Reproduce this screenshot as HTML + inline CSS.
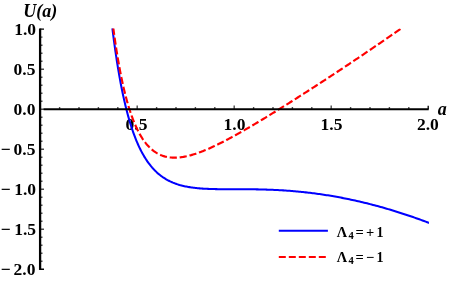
<!DOCTYPE html>
<html><head><meta charset="utf-8"><title>U(a)</title><style>
html,body{margin:0;padding:0;background:#fff;}
svg{display:block}
</style></head><body>
<svg width="449" height="281" viewBox="0 0 449 281" role="img" aria-label="Plot of U(a) against a for Λ4=+1 (solid blue) and Λ4=−1 (dashed red)">
<desc>Axes: U(a) vertical with ticks 1.0, 0.5, 0.0, −0.5, −1.0, −1.5, −2.0; a horizontal with ticks 0.5, 1.0, 1.5, 2.0. Legend: Λ4=+1, Λ4=−1.</desc>
<rect width="449" height="281" fill="#fff"/>
<filter id="b" x="0" y="0" width="449" height="281" filterUnits="userSpaceOnUse"><feGaussianBlur stdDeviation="0.3"/></filter>
<g filter="url(#b)">
<g font-family="'Liberation Serif', serif" font-weight="bold" font-size="17.5" fill="#000">
<text x="125.6" y="130">0.5</text>
<text x="223.6" y="130">1.0</text>
<text x="320.5" y="130">1.5</text>
<text x="416.9" y="130">2.0</text>
<text x="14.2" y="35.27">1.0</text>
<text x="13.5" y="75.46">0.5</text>
<text x="13.5" y="115.48">0.0</text>
<text y="155.49"><tspan x="0.8">−</tspan><tspan x="13.5">0.5</tspan></text>
<text y="195.33"><tspan x="0.8">−</tspan><tspan x="14.2">1.0</tspan></text>
<text y="235.34"><tspan x="0.8">−</tspan><tspan x="14.2">1.5</tspan></text>
<text y="275.36"><tspan x="0.8">−</tspan><tspan x="13.5">2.0</tspan></text>
</g>
<g font-family="'Liberation Serif', serif" font-weight="bold" font-style="italic" font-size="18" fill="#000">
<text x="23.2" y="16.6">U(a)</text>
<text x="437.8" y="115.15">a</text>
</g>
<g font-family="'Liberation Serif', serif" font-weight="bold" fill="#000">
<text y="236.7" font-size="14.5"><tspan x="336.8">Λ</tspan><tspan x="348.4" y="238.7" font-size="10.5">4</tspan><tspan x="355.6" y="236.7" font-size="14.5">=</tspan><tspan x="366.1" y="236.7" font-size="14.5">+</tspan><tspan x="376.4" y="236.7" font-size="14">1</tspan></text>
<text y="262" font-size="14.5"><tspan x="336.8">Λ</tspan><tspan x="348.4" y="264" font-size="10.5">4</tspan><tspan x="355.6" y="262" font-size="14.5">=</tspan><tspan x="366.1" y="262" font-size="14.5">−</tspan><tspan x="376.4" y="262" font-size="14">1</tspan></text>
</g>
<clipPath id="c"><rect x="0" y="28.61" width="428.95" height="260"/></clipPath>
<g clip-path="url(#c)" fill="none">
<path d="M112.00,25.17 L112.06,25.68 L112.17,26.62 L112.32,27.83 L112.49,29.25 L112.69,30.84 L112.91,32.58 L113.14,34.45 L113.40,36.43 L113.67,38.51 L113.95,40.67 L114.26,42.91 L114.57,45.22 L114.90,47.58 L115.24,50.00 L115.59,52.45 L115.96,54.94 L116.34,57.46 L116.72,60.01 L117.12,62.57 L117.53,65.14 L117.95,67.73 L118.39,70.32 L118.83,72.90 L119.28,75.49 L119.74,78.06 L120.20,80.63 L120.68,83.19 L121.17,85.72 L121.67,88.24 L122.17,90.74 L122.68,93.22 L123.20,95.67 L123.73,98.10 L124.27,100.49 L124.82,102.86 L125.37,105.20 L125.93,107.50 L126.50,109.77 L127.08,112.01 L127.66,114.21 L128.25,116.37 L128.85,118.50 L129.45,120.59 L130.07,122.64 L130.69,124.66 L131.31,126.63 L131.95,128.57 L132.59,130.47 L133.23,132.33 L133.89,134.15 L134.55,135.93 L135.21,137.67 L135.88,139.37 L136.56,141.04 L137.25,142.66 L137.94,144.25 L138.64,145.80 L139.34,147.31 L140.05,148.78 L140.77,150.22 L141.49,151.62 L142.22,152.98 L142.95,154.31 L143.69,155.60 L144.44,156.86 L145.19,158.08 L145.95,159.27 L146.71,160.42 L147.48,161.55 L148.25,162.64 L149.03,163.69 L149.82,164.72 L150.61,165.72 L151.41,166.68 L152.21,167.62 L153.02,168.52 L153.83,169.40 L154.64,170.25 L155.47,171.08 L156.30,171.87 L157.13,172.64 L157.97,173.39 L158.81,174.11 L159.66,174.80 L160.51,175.47 L161.37,176.12 L162.24,176.74 L163.10,177.34 L163.98,177.92 L164.86,178.48 L165.74,179.02 L166.63,179.54 L167.52,180.04 L168.42,180.51 L169.32,180.97 L170.23,181.42 L171.14,181.84 L172.06,182.25 L172.98,182.64 L173.91,183.01 L174.84,183.37 L175.77,183.71 L176.71,184.04 L177.66,184.35 L178.61,184.65 L179.56,184.94 L180.52,185.21 L181.48,185.47 L182.45,185.71 L183.42,185.95 L184.40,186.17 L185.38,186.38 L186.36,186.59 L187.35,186.78 L188.35,186.96 L189.34,187.13 L190.35,187.29 L191.35,187.44 L192.36,187.58 L193.38,187.72 L194.40,187.85 L195.42,187.97 L196.45,188.08 L197.48,188.18 L198.52,188.28 L199.56,188.37 L200.60,188.45 L201.65,188.53 L202.70,188.61 L203.76,188.67 L204.82,188.73 L205.89,188.79 L206.96,188.84 L208.03,188.89 L209.11,188.94 L210.19,188.97 L211.27,189.01 L212.36,189.04 L213.45,189.07 L214.55,189.10 L215.65,189.12 L216.76,189.14 L217.86,189.16 L218.98,189.17 L220.09,189.18 L221.21,189.19 L222.34,189.20 L223.46,189.21 L224.60,189.22 L225.73,189.22 L226.87,189.22 L228.01,189.23 L229.16,189.23 L230.31,189.23 L231.47,189.23 L232.62,189.23 L233.79,189.23 L234.95,189.23 L236.12,189.23 L237.29,189.23 L238.47,189.23 L239.65,189.23 L240.83,189.23 L242.02,189.24 L243.21,189.24 L244.41,189.24 L245.60,189.25 L246.81,189.26 L248.01,189.26 L249.22,189.27 L250.43,189.28 L251.65,189.30 L252.87,189.31 L254.09,189.33 L255.32,189.35 L256.55,189.36 L257.78,189.39 L259.02,189.41 L260.26,189.44 L261.50,189.47 L262.75,189.50 L264.00,189.53 L265.26,189.57 L266.52,189.61 L267.78,189.65 L269.04,189.69 L270.31,189.74 L271.58,189.79 L272.86,189.85 L274.14,189.90 L275.42,189.96 L276.70,190.03 L277.99,190.09 L279.28,190.16 L280.58,190.24 L281.88,190.31 L283.18,190.39 L284.48,190.48 L285.79,190.57 L287.10,190.66 L288.42,190.75 L289.74,190.85 L291.06,190.95 L292.38,191.06 L293.71,191.17 L295.04,191.29 L296.38,191.41 L297.71,191.53 L299.05,191.66 L300.40,191.79 L301.75,191.92 L303.10,192.06 L304.45,192.21 L305.81,192.36 L307.17,192.51 L308.53,192.67 L309.90,192.83 L311.27,193.00 L312.64,193.17 L314.01,193.34 L315.39,193.52 L316.78,193.71 L318.16,193.90 L319.55,194.09 L320.94,194.29 L322.34,194.50 L323.73,194.71 L325.13,194.92 L326.54,195.14 L327.94,195.36 L329.35,195.59 L330.77,195.83 L332.18,196.07 L333.60,196.31 L335.02,196.56 L336.45,196.81 L337.88,197.07 L339.31,197.34 L340.74,197.61 L342.18,197.88 L343.62,198.16 L345.06,198.45 L346.51,198.74 L347.96,199.03 L349.41,199.33 L350.87,199.64 L352.32,199.95 L353.78,200.27 L355.25,200.59 L356.71,200.92 L358.18,201.25 L359.66,201.59 L361.13,201.94 L362.61,202.29 L364.09,202.64 L365.58,203.01 L367.06,203.37 L368.55,203.74 L370.05,204.12 L371.54,204.51 L373.04,204.90 L374.54,205.29 L376.05,205.69 L377.56,206.10 L379.07,206.51 L380.58,206.93 L382.10,207.35 L383.61,207.78 L385.14,208.22 L386.66,208.66 L388.19,209.11 L389.72,209.56 L391.25,210.02 L392.79,210.48 L394.33,210.95 L395.87,211.43 L397.41,211.91 L398.96,212.40 L400.51,212.90 L402.06,213.40 L403.62,213.90 L405.17,214.41 L406.73,214.93 L408.30,215.46 L409.86,215.99 L411.43,216.52 L413.01,217.07 L414.58,217.62 L416.16,218.17 L417.74,218.73 L419.32,219.30 L420.91,219.87 L422.49,220.45 L424.08,221.04 L425.68,221.63 L427.27,222.23 L428.87,222.83 L430.48,223.44 L432.08,224.06" stroke="#0000ff" stroke-width="2.05"/>
<path d="M112.92,25.17 L112.97,25.61 L113.08,26.40 L113.21,27.43 L113.37,28.63 L113.55,29.98 L113.75,31.46 L113.97,33.05 L114.20,34.73 L114.45,36.51 L114.71,38.35 L114.98,40.26 L115.27,42.23 L115.57,44.26 L115.88,46.32 L116.21,48.42 L116.54,50.56 L116.89,52.72 L117.24,54.91 L117.61,57.11 L117.98,59.33 L118.37,61.55 L118.76,63.78 L119.17,66.02 L119.58,68.25 L120.00,70.48 L120.43,72.70 L120.86,74.92 L121.31,77.12 L121.76,79.30 L122.22,81.47 L122.69,83.63 L123.17,85.76 L123.65,87.87 L124.15,89.96 L124.65,92.02 L125.15,94.06 L125.67,96.06 L126.19,98.05 L126.71,100.00 L127.25,101.92 L127.79,103.81 L128.33,105.66 L128.89,107.49 L129.45,109.28 L130.02,111.04 L130.59,112.76 L131.17,114.45 L131.75,116.11 L132.35,117.73 L132.94,119.31 L133.55,120.86 L134.16,122.37 L134.77,123.85 L135.39,125.29 L136.02,126.69 L136.65,128.06 L137.29,129.40 L137.94,130.70 L138.59,131.96 L139.24,133.19 L139.90,134.38 L140.57,135.54 L141.24,136.66 L141.92,137.75 L142.60,138.81 L143.29,139.83 L143.98,140.82 L144.68,141.77 L145.38,142.70 L146.09,143.59 L146.80,144.45 L147.52,145.28 L148.24,146.07 L148.97,146.84 L149.71,147.57 L150.44,148.28 L151.19,148.96 L151.94,149.60 L152.69,150.22 L153.45,150.81 L154.21,151.38 L154.98,151.91 L155.75,152.42 L156.52,152.90 L157.30,153.36 L158.09,153.79 L158.88,154.20 L159.67,154.58 L160.47,154.93 L161.28,155.27 L162.09,155.58 L162.90,155.86 L163.72,156.12 L164.54,156.37 L165.36,156.59 L166.19,156.78 L167.03,156.96 L167.87,157.12 L168.71,157.25 L169.56,157.37 L170.41,157.47 L171.27,157.54 L172.13,157.60 L172.99,157.64 L173.86,157.67 L174.73,157.67 L175.61,157.66 L176.49,157.63 L177.37,157.58 L178.26,157.52 L179.16,157.44 L180.05,157.35 L180.95,157.24 L181.86,157.12 L182.77,156.98 L183.68,156.83 L184.60,156.66 L185.52,156.48 L186.44,156.28 L187.37,156.07 L188.31,155.85 L189.24,155.62 L190.18,155.37 L191.13,155.12 L192.07,154.85 L193.03,154.56 L193.98,154.27 L194.94,153.97 L195.90,153.65 L196.87,153.32 L197.84,152.99 L198.82,152.64 L199.79,152.28 L200.78,151.92 L201.76,151.54 L202.75,151.15 L203.74,150.76 L204.74,150.35 L205.74,149.94 L206.74,149.51 L207.75,149.08 L208.76,148.64 L209.77,148.20 L210.79,147.74 L211.81,147.28 L212.84,146.80 L213.87,146.33 L214.90,145.84 L215.93,145.34 L216.97,144.84 L218.01,144.34 L219.06,143.82 L220.11,143.30 L221.16,142.77 L222.22,142.24 L223.28,141.69 L224.34,141.15 L225.41,140.59 L226.48,140.03 L227.55,139.47 L228.63,138.90 L229.71,138.32 L230.79,137.74 L231.87,137.15 L232.96,136.55 L234.06,135.96 L235.15,135.35 L236.25,134.74 L237.36,134.13 L238.46,133.51 L239.57,132.88 L240.68,132.25 L241.80,131.62 L242.92,130.98 L244.04,130.34 L245.17,129.69 L246.30,129.04 L247.43,128.38 L248.56,127.72 L249.70,127.06 L250.84,126.39 L251.99,125.72 L253.13,125.04 L254.29,124.36 L255.44,123.67 L256.60,122.98 L257.76,122.29 L258.92,121.59 L260.09,120.89 L261.26,120.19 L262.43,119.48 L263.60,118.77 L264.78,118.05 L265.97,117.33 L267.15,116.61 L268.34,115.89 L269.53,115.16 L270.72,114.42 L271.92,113.69 L273.12,112.95 L274.32,112.21 L275.53,111.46 L276.74,110.71 L277.95,109.96 L279.16,109.20 L280.38,108.45 L281.60,107.68 L282.83,106.92 L284.05,106.15 L285.28,105.38 L286.52,104.61 L287.75,103.83 L288.99,103.05 L290.23,102.27 L291.48,101.48 L292.72,100.69 L293.97,99.90 L295.23,99.10 L296.48,98.31 L297.74,97.50 L299.00,96.70 L300.27,95.89 L301.53,95.08 L302.80,94.27 L304.08,93.46 L305.35,92.64 L306.63,91.82 L307.91,90.99 L309.20,90.17 L310.49,89.34 L311.77,88.51 L313.07,87.67 L314.36,86.83 L315.66,85.99 L316.96,85.15 L318.27,84.30 L319.57,83.45 L320.88,82.60 L322.19,81.75 L323.51,80.89 L324.83,80.03 L326.15,79.17 L327.47,78.30 L328.80,77.43 L330.12,76.56 L331.46,75.69 L332.79,74.81 L334.13,73.93 L335.47,73.05 L336.81,72.16 L338.15,71.27 L339.50,70.38 L340.85,69.49 L342.20,68.59 L343.56,67.69 L344.92,66.79 L346.28,65.88 L347.64,64.98 L349.01,64.06 L350.37,63.15 L351.75,62.23 L353.12,61.31 L354.50,60.39 L355.87,59.47 L357.26,58.54 L358.64,57.61 L360.03,56.67 L361.42,55.73 L362.81,54.79 L364.20,53.85 L365.60,52.91 L367.00,51.96 L368.40,51.00 L369.81,50.05 L371.22,49.09 L372.63,48.13 L374.04,47.17 L375.45,46.20 L376.87,45.23 L378.29,44.26 L379.72,43.28 L381.14,42.30 L382.57,41.32 L384.00,40.33 L385.43,39.34 L386.87,38.35 L388.31,37.36 L389.75,36.36 L391.19,35.36 L392.64,34.35 L394.08,33.35 L395.53,32.34 L396.99,31.32 L398.44,30.30 L399.90,29.28 L401.36,28.26 L402.82,27.23 L404.29,26.20 L405.76,25.17" stroke="#ff0000" stroke-width="2.15" stroke-dasharray="7.15,2.83" stroke-dashoffset="7.41"/>
</g>
<path stroke="#000" stroke-width="2.0" fill="none" d="M43.6,109.2H428.70"/>
<path stroke="#000" stroke-width="2.3" fill="none" d="M40.1,28.47V269.96"/>
<path stroke="#000" stroke-opacity="0.7" stroke-width="1.4" fill="none" d="M40.20,109.20V105.40M59.60,109.20V106.90M79.00,109.20V106.90M98.40,109.20V106.90M117.80,109.20V106.90M137.20,109.20V105.40M156.60,109.20V106.90M176.00,109.20V106.90M195.40,109.20V106.90M214.80,109.20V106.90M234.20,109.20V105.40M253.60,109.20V106.90M273.00,109.20V106.90M292.40,109.20V106.90M311.80,109.20V106.90M331.20,109.20V105.40M350.60,109.20V106.90M370.00,109.20V106.90M389.40,109.20V106.90M408.80,109.20V106.90M40.20,261.26H42.50M40.20,253.25H42.50M40.20,245.25H42.50M40.20,237.25H42.50M40.20,229.25H44.00M40.20,221.24H42.50M40.20,213.24H42.50M40.20,205.24H42.50M40.20,197.23H42.50M40.20,189.23H44.00M40.20,181.23H42.50M40.20,173.22H42.50M40.20,165.22H42.50M40.20,157.22H42.50M40.20,149.22H44.00M40.20,141.21H42.50M40.20,133.21H42.50M40.20,125.21H42.50M40.20,117.20H42.50M40.20,109.20H44.00M40.20,101.20H42.50M40.20,93.19H42.50M40.20,85.19H42.50M40.20,77.19H42.50M40.20,69.19H44.00M40.20,61.18H42.50M40.20,53.18H42.50M40.20,45.18H42.50M40.20,37.17H42.50"/>
<path stroke="#000" stroke-width="1.3" fill="none" d="M428.20,109.20V105.80M40.20,269.26H44.00M40.20,29.17H44.00"/>
<path d="M278.8,230.8H327.9" stroke="#0000ff" stroke-width="2.0"/>
<path d="M278.8,256.9H327.9" stroke="#ff0000" stroke-width="2.0" stroke-dasharray="7,3"/>
</g>
</svg></body></html>
